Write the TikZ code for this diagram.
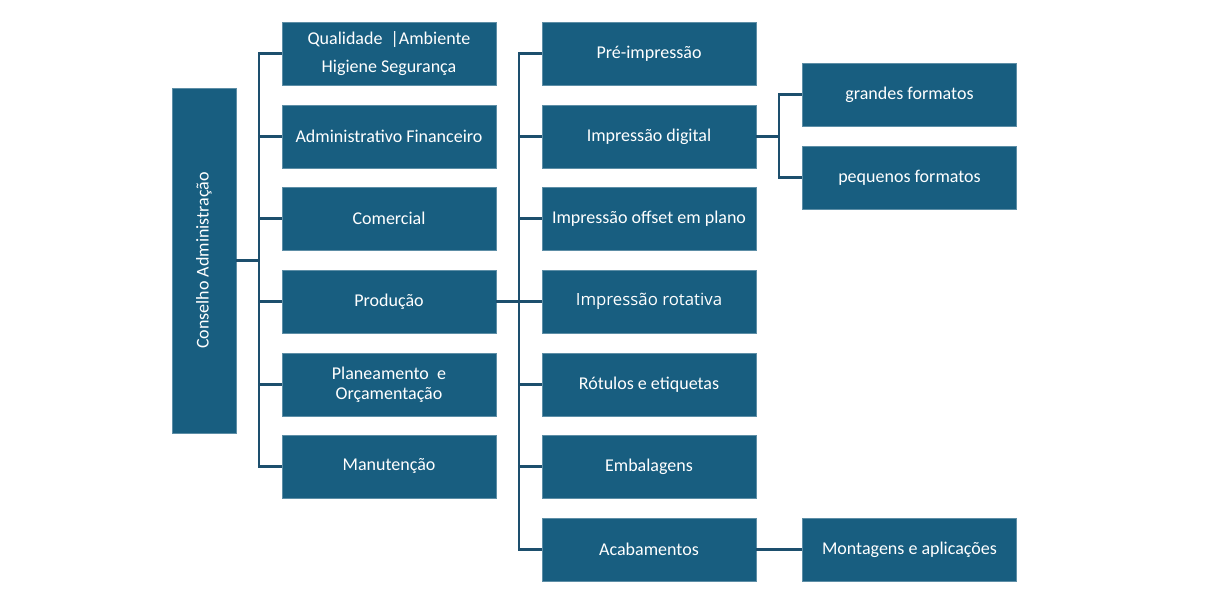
\documentclass[tikz,border=0pt]{standalone}
\usepackage{fontspec}
\setmainfont{Carlito}
\newfontfamily\altfont{Open Sans}
\definecolor{boxblue}{HTML}{185E80}
\definecolor{linkblue}{HTML}{1D4F6D}
\begin{document}
\begin{tikzpicture}[x=1pt,y=-1pt,
  orgbox/.style={rectangle, fill=boxblue, draw=boxblue!70!white, line width=0.6pt,
    minimum width=214pt, minimum height=63pt, inner sep=0pt, text=white,
    font=\fontsize{18}{22}\selectfont, align=center},
  link/.style={draw=linkblue, line width=2.2pt}]
\useasboundingbox (0,0) rectangle (1224,609);
% root
\node[orgbox, minimum width=345pt, minimum height=64pt, rotate=90] (cons) at (204,260.5) {Conselho Administração};
% column 1
\node[orgbox, font=\fontsize{18}{28}\selectfont] (qual) at (389,53.5) {Qualidade \ |Ambiente\\Higiene Segurança};
\node[orgbox] (adm) at (389,136.5) {Administrativo Financeiro};
\node[orgbox] (com) at (389,218.5) {Comercial};
\node[orgbox] (prod) at (389,301.5) {Produção};
\node[orgbox, font=\fontsize{18}{20}\selectfont] (plan) at (389,384.5) {Planeamento \ e\\Orçamentação};
\node[orgbox] (manu) at (389,466.5) {Manutenção};
% column 2
\node[orgbox] (pre) at (649,53.5) {Pré-impressão};
\node[orgbox] (dig) at (649,136.5) {Impressão digital};
\node[orgbox] (off) at (649,218.5) {Impressão offset em plano};
\node[orgbox, font=\altfont\fontsize{16.8}{20}\selectfont] (rot) at (649,301.5) {Impressão rotativa};
\node[orgbox] (rotu) at (649,384.5) {Rótulos e etiquetas};
\node[orgbox] (emb) at (649,466.5) {Embalagens};
\node[orgbox] (acab) at (649,549.5) {Acabamentos};
% column 3
\node[orgbox] (gra) at (909.5,94.5) {grandes formatos};
\node[orgbox] (peq) at (909.5,177.5) {pequenos formatos};
\node[orgbox] (mont) at (909.5,549.5) {Montagens e aplicações};
% connectors level 1
\draw[link] (cons.south) -- ++(23,0);
\draw[link] (qual.west) -- ++(-23,0) |- (manu.west);
\foreach \n in {adm,com,prod,plan} \draw[link] (\n.west) -- ++(-23,0);
% connectors production
\draw[link] (prod.east) -- ++(23,0);
\draw[link] (pre.west) -- ++(-23,0) |- (acab.west);
\foreach \n in {dig,off,rot,rotu,emb} \draw[link] (\n.west) -- ++(-23,0);
% connectors digital
\draw[link] (dig.east) -- ++(23,0);
\draw[link] (gra.west) -- ++(-23,0) |- (peq.west);
% acabamentos
\draw[link] (acab.east) -- (mont.west);
\end{tikzpicture}
\end{document}
